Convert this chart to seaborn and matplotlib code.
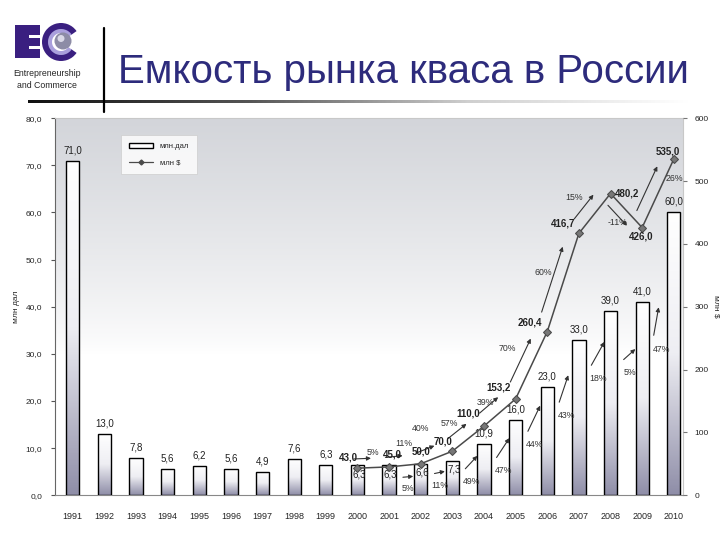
import numpy as np
import pandas as pd
import matplotlib
matplotlib.use('Agg')
import matplotlib.pyplot as plt
import matplotlib.transforms as mtransforms
from matplotlib.colors import LinearSegmentedColormap
from matplotlib.patches import Patch, Rectangle, Wedge, Circle
from matplotlib.lines import Line2D
import seaborn as sns

# -------------------------------
# data
# -------------------------------
years = ['1991', '1992', '1993', '1994', '1995', '1996', '1997', '1998', '1999', '2000',
         '2001', '2002', '2003', '2004', '2005', '2006', '2007', '2008', '2009', '2010']
volume_dal = [71.0, 13.0, 7.8, 5.6, 6.2, 5.6, 4.9, 7.6, 6.3, 6.3,
              6.3, 6.6, 7.3, 10.9, 16.0, 23.0, 33.0, 39.0, 41.0, 60.0]

usd_years = ['2000', '2001', '2002', '2003', '2004', '2005', '2006', '2007', '2008', '2009', '2010']
volume_usd = [43.0, 45.0, 50.0, 70.0, 110.0, 153.2, 260.4, 416.7, 480.2, 426.0, 535.0]

# growth labels for the $ line (2000->2001 ... 2009->2010)
usd_growth = ['5%', '11%', '40%', '57%', '39%', '70%', '60%', '15%', '-11%', '26%']
# growth labels for the bars (2001->2002 ... 2009->2010)
dal_growth_from = '2001'
dal_growth = ['5%', '11%', '49%', '47%', '44%', '43%', '18%', '5%', '47%']

# -------------------------------
# styles
# -------------------------------
sns.set_style('white')
plt.rcParams['font.family'] = ['Liberation Sans', 'DejaVu Sans']

NAVY = '#2d2b7c'
PURPLE = '#3a1f80'
LAVENDER = '#a99fdc'
LINE_C = '#4a4a4a'

# pixel offsets of the value labels of the $ line
usd_label_off = [(-9, 11), (3, 12), (0, 12), (-9, 10), (-16, 13), (-17, 11),
                 (-17, 9), (-16, 10), (17, 0), (-1, -9), (-6, 8)]
# pixel offsets of the $ growth labels from segment midpoints
usd_pct_off = [(0, 15), (-1, 22), (-16, 29), (-19, 15), (-14, 10), (-24, 17),
               (-20, 10), (-21, 16), (-9, -12), (16, 15)]
# how far under the bar tops the bar-growth arrows start (pixels)
bar_drop = [12, 10, 10, 16, 14, 18, 28, 50, 36]

fig = plt.figure(figsize=(7.2, 5.4), dpi=100)

# -------------------------------
# header: logo, title, rules
# -------------------------------
deco = fig.add_axes([0, 0, 1, 1], zorder=-5)
deco.set_xlim(0, 720)
deco.set_ylim(540, 0)
deco.axis('off')

# "E"
deco.add_patch(Rectangle((15, 25), 25, 33, color=PURPLE, lw=0))
deco.add_patch(Rectangle((29, 35), 11, 2.5, color='white', lw=0))
deco.add_patch(Rectangle((29, 46), 11, 2.5, color='white', lw=0))
# "C" with the ball
deco.add_patch(Wedge((61, 42), 19, 35, 325, width=7, color=PURPLE, lw=0))
deco.add_patch(Wedge((61, 42), 13, 35, 325, width=4, color=LAVENDER, lw=0))
deco.add_patch(Circle((63, 41), 8.5, color='#8d8ca6', lw=0))
deco.add_patch(Circle((61, 38.5), 3.5, color='#d9d8e6', lw=0))
deco.text(47, 74, 'Entrepreneurship', ha='center', va='center', fontsize=6.3)
deco.text(47, 86, 'and Commerce', ha='center', va='center', fontsize=6.3)

deco.plot([104, 104], [28, 112], color='black', lw=1.6)
rule = np.linspace(0, 1, 400).reshape(1, -1)
deco.imshow(rule, extent=[28, 690, 103.5, 100.5], cmap=LinearSegmentedColormap.from_list(
    'rule', ['#111111', '#555555', '#cfcfcf', '#ffffff']), aspect='auto', zorder=1)
deco.set_xlim(0, 720)
deco.set_ylim(540, 0)

deco.text(118, 72, 'Емкость рынка кваса в России', color=NAVY, fontsize=29,
          ha='left', va='center', family=['Liberation Sans', 'DejaVu Sans'])

# -------------------------------
# plot area background (scan grey fading to white)
# -------------------------------
rect = [0.076, 0.083, 0.873, 0.698]
bg = fig.add_axes(rect, zorder=-1)
shade = np.clip(np.linspace(1, -0.6, 300), 0, 1) ** 0.8
bg.imshow(shade.reshape(-1, 1), cmap=LinearSegmentedColormap.from_list('bg', ['#ffffff', '#d3d5da']),
          vmin=0, vmax=1, aspect='auto', extent=[0, 1, 0, 1])
bg.axis('off')

ax = fig.add_axes(rect)
ax.patch.set_alpha(0)

df = pd.DataFrame({'year': years, 'dal': volume_dal})
sns.barplot(data=df, x='year', y='dal', ax=ax, color='white', edgecolor='black',
            linewidth=1.0, width=0.42, saturation=1)

# gradient fill inside each bar
bar_cmap = LinearSegmentedColormap.from_list('bar', ['#ffffff', '#eeeef3', '#8f8ea8'])
grad = np.linspace(1, 0, 200).reshape(-1, 1)
bars = list(ax.patches)
for p in bars:
    p.set_facecolor('none')
    p.set_zorder(3)
    im = ax.imshow(grad, extent=[p.get_x(), p.get_x() + p.get_width(), 0, p.get_height()],
                   origin='lower', cmap=bar_cmap, vmin=0, vmax=1, aspect='auto', zorder=2)
    im.set_clip_path(p)

ax.set_xlim(-0.57, 19.3)
ax.set_ylim(0, 80)

# bar value labels
for i, v in enumerate(volume_dal):
    lab = f'{v:.1f}'.replace('.', ',')
    if years[i] in ('2000', '2001', '2002', '2003'):
        ax.text(i + 0.05, v - 0.8, lab, ha='center', va='top', fontsize=7, zorder=6, color='#222222')
    else:
        ax.text(i, v + 1.2, lab, ha='center', va='bottom', fontsize=7, zorder=6, color='#222222')

# axes cosmetics (left)
ax.set_yticks(np.arange(0, 81, 10))
ax.set_yticklabels([f'{t:.1f}'.replace('.', ',') for t in np.arange(0, 81, 10)], fontsize=6)
ax.set_xticks(range(len(years)))
ax.set_xticklabels(years, fontsize=6.5)
ax.set_xticks(np.arange(0.5, len(years) - 1, 1), minor=True)
ax.tick_params(axis='x', which='major', length=0, pad=12)
ax.tick_params(axis='x', which='minor', length=3, color='#777777', direction='inout')
ax.tick_params(axis='y', length=3, color='#555555', pad=6)
ax.set_xlabel('')
ax.set_ylabel('млн дал', fontsize=6, labelpad=4)
for s in ['top', 'right']:
    ax.spines[s].set_color('#c8c8c8')
    ax.spines[s].set_linewidth(0.8)
ax.spines['left'].set_color('#666666')
ax.spines['left'].set_linewidth(0.8)
ax.spines['bottom'].set_color('#888888')
ax.spines['bottom'].set_linewidth(0.8)

# -------------------------------
# $ line on the right axis
# -------------------------------
ax2 = ax.twinx()
usd_pos = [years.index(y) for y in usd_years]
sns.lineplot(x=usd_pos, y=volume_usd, ax=ax2, color=LINE_C, marker='D', markersize=4,
             markerfacecolor='#777777', markeredgecolor=LINE_C, linewidth=1.1)
ax2.set_ylim(0, 600)
ax2.set_xlim(-0.57, 19.3)
ax2.set_yticks(np.arange(0, 601, 100))
ax2.set_yticklabels([str(t) for t in range(0, 601, 100)], fontsize=6)
ax2.tick_params(axis='y', length=3, color='#777777', pad=5)
ax2.set_ylabel('млн $', fontsize=6, rotation=270, labelpad=8)
for s in ax2.spines.values():
    s.set_visible(False)

for x, v, (dx, dy) in zip(usd_pos, volume_usd, usd_label_off):
    ax2.annotate(f'{v:.1f}'.replace('.', ','), (x, v), xytext=(dx, dy), textcoords='offset pixels',
                 ha='center', va='center', fontsize=7, fontweight='bold', color='#222222', zorder=7)

# growth arrows along the $ line
arrow_kw = dict(arrowstyle='-|>', color='#333333', lw=0.8, mutation_scale=6)
up_left = mtransforms.offset_copy(ax2.transData, fig=fig, x=-9, y=9, units='dots')
down_left = mtransforms.offset_copy(ax2.transData, fig=fig, x=-7, y=-7, units='dots')
for k, lab in enumerate(usd_growth):
    x0, x1 = usd_pos[k], usd_pos[k + 1]
    v0, v1 = volume_usd[k], volume_usd[k + 1]
    tr = up_left if v1 >= v0 else down_left
    s = (x0 + 0.08 * (x1 - x0), v0 + 0.08 * (v1 - v0))
    e = (x0 + 0.8 * (x1 - x0), v0 + 0.8 * (v1 - v0))
    ax2.annotate('', xy=e, xytext=s, xycoords=tr, textcoords=tr, arrowprops=arrow_kw)
    dx, dy = usd_pct_off[k]
    ax2.annotate(lab, ((x0 + x1) / 2, (v0 + v1) / 2), xytext=(dx, dy), textcoords='offset pixels',
                 ha='center', va='center', fontsize=6.3, color='#333333')

# growth arrows between the bars (drawn in pixel space)
start_i = years.index(dal_growth_from)
for k, lab in enumerate(dal_growth):
    i = start_i + k
    a = ax.transData.transform((i + 0.35, volume_dal[i]))
    b = ax.transData.transform((i + 0.85, volume_dal[i + 1]))
    a[1] -= bar_drop[k]
    b[1] -= bar_drop[k]
    d = b - a
    if k >= 2:
        d[1] = max(d[1], 0.9 * d[0])
    n = np.hypot(*d)
    d = d / n * min(n, 34)
    ax.annotate('', xy=tuple(a + d), xytext=tuple(a), xycoords='figure pixels',
                textcoords='figure pixels', arrowprops=arrow_kw)
    ax.annotate(lab, tuple(a), xycoords='figure pixels', xytext=(8, -11), textcoords='offset pixels',
                ha='center', va='center', fontsize=6.3, color='#333333', zorder=7)

# legend
handles = [Patch(facecolor='white', edgecolor='black', linewidth=1.0),
           Line2D([], [], color=LINE_C, marker='D', markersize=2.5, lw=0.9)]
leg = ax.legend(handles, ['млн.дал', 'млн $'], loc='upper left', bbox_to_anchor=(0.1, 0.965),
                fontsize=5.5, frameon=True, fancybox=False, handlelength=3.2, handleheight=0.6,
                borderpad=1.0, labelspacing=1.2)
leg.get_frame().set_edgecolor('#cccccc')
leg.get_frame().set_linewidth(0.6)
leg.set_zorder(10)

fig.savefig('out.png', dpi=100)
